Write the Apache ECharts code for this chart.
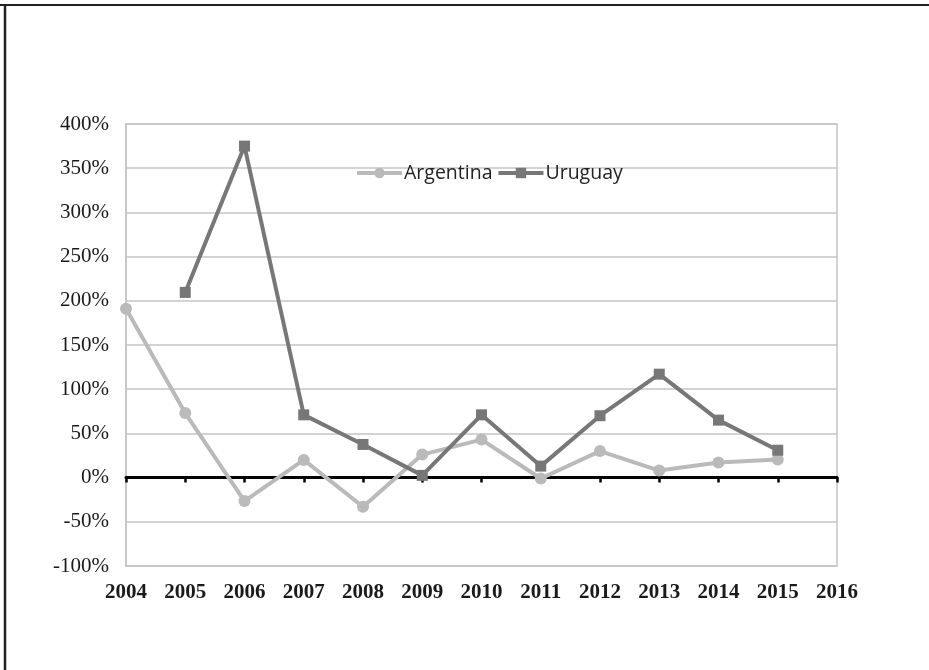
<!DOCTYPE html>
<html>
<head>
<meta charset="utf-8">
<script src="https://cdn.jsdelivr.net/npm/echarts@6/dist/echarts.min.js"></script>
<style>
  html, body { margin: 0; padding: 0; background: #fff; }
  #chart { width: 929px; height: 670px; }
</style>
</head>
<body>
<div id="chart"></div>
<script>
// Years on the horizontal axis
const years = ['2004', '2005', '2006', '2007', '2008', '2009', '2010',
               '2011', '2012', '2013', '2014', '2015', '2016'];

// Annual growth rates (fractions, 1 = 100%)
const argentina = [1.91, 0.73, -0.265, 0.20, -0.33, 0.26, 0.43,
                   -0.01, 0.30, 0.08, 0.17, 0.205, null];
const uruguay = [null, 2.095, 3.75, 0.71, 0.375, 0.025, 0.71,
                 0.13, 0.70, 1.17, 0.65, 0.31, null];

// Value-axis ticks
const yMin = -1, yMax = 4, yStep = 0.5;

const chart = echarts.init(document.getElementById('chart'));

const gridColor = '#c4c4c4';
const lightGray = '#bababa';
const darkGray = '#777777';

chart.setOption({
  animation: false,
  backgroundColor: '#ffffff',
  grid: {
    left: 126, right: 92, top: 124, bottom: 104,
    show: true, borderColor: gridColor, borderWidth: 1.5
  },
  legend: {
    left: 350, top: 158,
    itemWidth: 45, itemHeight: 13, itemGap: 4,
    lineStyle: { width: 4 },
    textStyle: { fontFamily: 'Open Sans', fontSize: 19.5, color: '#222', padding: [0, 0, 0, -3] },
    data: ['Argentina', 'Uruguay']
  },
  xAxis: [
    {
      type: 'category', data: years, boundaryGap: false, position: 'bottom',
      axisLine: { show: false, onZero: false },
      axisTick: { show: false },
      splitLine: { show: false },
      axisLabel: {
        margin: 16, interval: 0,
        fontFamily: 'Liberation Serif', fontWeight: 'bold', fontSize: 21, color: '#1a1a1a'
      }
    },
    {
      type: 'category', data: years, boundaryGap: false, position: 'bottom',
      axisLine: { show: true, onZero: true, lineStyle: { color: '#000', width: 3 } },
      axisTick: { show: true, interval: 0, length: 5, lineStyle: { color: '#000', width: 2.5 } },
      axisLabel: { show: false },
      splitLine: { show: false }
    }
  ],
  yAxis: {
    type: 'value', min: yMin, max: yMax, interval: yStep,
    axisLine: { show: true, onZero: false, lineStyle: { color: gridColor, width: 1.5 } },
    axisTick: { show: false },
    splitLine: { show: true, lineStyle: { color: gridColor, width: 1.5 } },
    axisLabel: {
      margin: 17,
      fontFamily: 'Liberation Serif', fontSize: 21, color: '#1a1a1a',
      formatter: v => Math.round(v * 100) + '%'
    }
  },
  series: [
    {
      name: 'Argentina', type: 'line', data: argentina, xAxisIndex: 0,
      symbol: 'circle', symbolSize: 12,
      lineStyle: { color: lightGray, width: 4 },
      itemStyle: { color: lightGray },
      z: 3
    },
    {
      name: 'Uruguay', type: 'line', data: uruguay, xAxisIndex: 0,
      symbol: 'rect', symbolSize: 11,
      lineStyle: { color: darkGray, width: 4 },
      itemStyle: { color: darkGray },
      z: 4
    }
  ],
  graphic: [
    { type: 'line', shape: { x1: 0, y1: 5, x2: 929, y2: 5 }, style: { stroke: '#222', lineWidth: 2 } },
    { type: 'line', shape: { x1: 5, y1: 4, x2: 5, y2: 670 }, style: { stroke: '#222', lineWidth: 2.5 } }
  ]
});
</script>
</body>
</html>
